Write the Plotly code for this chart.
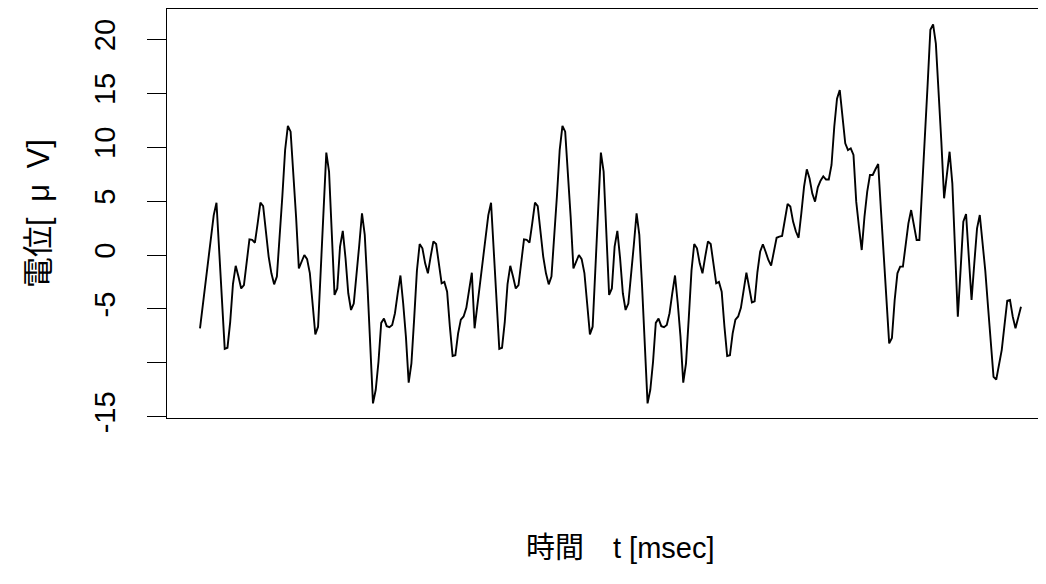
import plotly.graph_objects as go

potential_0_99 = [
    -6.8, -4.7, -2.6, -0.5, 1.6, 3.7, 4.85, 0.5, -4.1, -8.7,
    -8.6, -6.2, -2.7, -1.0, -2.0, -3.1, -2.8, -0.46, 1.45, 1.4,
    1.14, 2.94, 4.85, 4.54, 2.0, -0.15, -1.7, -2.72, -2.0, 1.45,
    5.5, 9.74, 11.97, 11.44, 7.7, 3.5, -1.24, -0.6, 0.0, -0.38,
    -1.67, -4.5, -7.36, -6.65, -1.7, 3.55, 9.5, 7.73, 2.0, -3.7,
    -3.1, 0.77, 2.23, -0.3, -3.55, -5.1, -4.5, -2.0, 0.93, 3.87,
    1.86, -2.9, -8.1, -13.76, -12.5, -9.9, -6.3, -5.9, -6.6, -6.7,
    -6.5, -5.4, -3.55, -1.9, -4.5, -7.6, -11.84, -10.05, -5.9, -1.45,
    1.02, 0.62, -0.77, -1.7, -0.15, 1.27, 1.02, -1.08, -2.63, -2.5,
    -3.4, -6.65, -9.37, -9.3, -7.27, -6.0, -5.7, -4.9, -3.1, -1.64,
]
potential_100_199 = [
    -6.8, -4.7, -2.6, -0.5, 1.6, 3.7, 4.85, 0.5, -4.1, -8.7,
    -8.6, -6.2, -2.7, -1.0, -2.0, -3.1, -2.8, -0.46, 1.45, 1.4,
    1.14, 2.94, 4.85, 4.54, 2.0, -0.15, -1.7, -2.72, -2.0, 1.45,
    5.5, 9.74, 11.97, 11.44, 7.7, 3.5, -1.24, -0.6, 0.0, -0.38,
    -1.67, -4.5, -7.36, -6.65, -1.7, 3.55, 9.5, 7.73, 2.0, -3.7,
    -3.1, 0.77, 2.23, -0.3, -3.55, -5.1, -4.5, -2.0, 0.93, 3.87,
    1.86, -2.9, -8.1, -13.76, -12.5, -9.9, -6.3, -5.9, -6.6, -6.7,
    -6.5, -5.4, -3.55, -1.9, -4.5, -7.6, -11.84, -10.05, -5.9, -1.45,
    1.02, 0.62, -0.77, -1.7, -0.15, 1.27, 1.02, -1.08, -2.63, -2.5,
    -3.4, -6.65, -9.37, -9.3, -7.27, -6.0, -5.7, -4.9, -3.1, -1.64,
]
potential_200_299 = [
    -3.0, -4.4, -4.3, -1.6, 0.3, 1.0, 0.3, -0.46, -0.99, 0.3,
    1.6, 1.7, 1.76, 3.25, 4.73, 4.5, 3.1, 2.2, 1.6, 3.87,
    6.34, 7.95, 7.1, 5.7, 4.95, 6.28, 6.9, 7.3, 7.0, 7.0,
    8.35, 11.9, 14.5, 15.3, 12.7, 10.36, 9.74, 9.9, 9.28, 4.95,
    2.6, 0.46, 3.55, 5.87, 7.42, 7.42, 7.95, 8.44, 4.17, 0.0,
    -4.17, -8.2, -7.7, -4.17, -1.7, -1.08, -1.08, 1.08, 2.94, 4.17,
    2.78, 1.39, 1.39, 5.8, 10.6, 15.8, 20.9, 21.4, 19.6, 15.4,
    10.5, 5.26, 7.6, 9.58, 6.65, -0.15, -5.72, -1.4, 3.1, 3.8,
    -0.15, -4.17, -0.77, 2.47, 3.71, 1.39, -1.45, -4.8, -8.2, -11.3,
    -11.55, -10.05, -8.8, -6.5, -4.24, -4.17, -5.72, -6.8, -5.9, -4.8,
]

potential = potential_0_99 + potential_100_199 + potential_200_299
time_ms = list(range(len(potential)))

y_tick_vals = [-15, -10, -5, 0, 5, 10, 15, 20]
y_tick_text = ["-15", "", "-5", "0", "5", "10", "15", "20"]

x_title = "時間　t [msec]"
y_title = "電位[\u2002μ\u2002V]"

FONT = "Liberation Sans, Arial, Noto Sans CJK JP, sans-serif"

# page has an 8px body margin: figure is offset by (8, 8)
FIG_W, FIG_H = 1030, 568
M_L, M_T, M_R = 159, 1, 0
M_B = FIG_H - 410

fig = go.Figure(
    go.Scatter(
        x=time_ms,
        y=potential,
        mode="lines",
        line=dict(color="black", width=1.9),
        hoverinfo="skip",
    )
)

fig.update_layout(
    width=FIG_W,
    height=FIG_H,
    autosize=False,
    margin=dict(l=M_L, r=M_R, t=M_T, b=M_B),
    paper_bgcolor="white",
    plot_bgcolor="white",
    showlegend=False,
    font=dict(family=FONT, color="black", size=29),
    annotations=[
        dict(
            text=x_title,
            xref="paper",
            yref="paper",
            x=(612 - M_L) / (FIG_W - M_L - M_R),
            y=-(540 - 410) / 409,
            xanchor="center",
            yanchor="middle",
            showarrow=False,
            font=dict(size=29, family=FONT),
        )
    ],
)

fig.update_xaxes(
    range=[-12.02, 305.2],
    showgrid=False,
    zeroline=False,
    showticklabels=False,
    ticks="",
    showline=True,
    mirror=True,
    linecolor="black",
    linewidth=1,
)

fig.update_yaxes(
    range=[-15.12, 22.82],
    showgrid=False,
    zeroline=False,
    showline=True,
    mirror=False,
    linecolor="black",
    linewidth=1,
    ticks="outside",
    ticklen=19,
    tickwidth=1,
    tickcolor="black",
    tickvals=y_tick_vals,
    ticktext=y_tick_text,
    tickangle=-90,
    tickfont=dict(size=29, family=FONT),
    ticklabelstandoff=20,
    title=dict(text=y_title, font=dict(size=31, family=FONT), standoff=30),
)

fig.write_html("out.html")
